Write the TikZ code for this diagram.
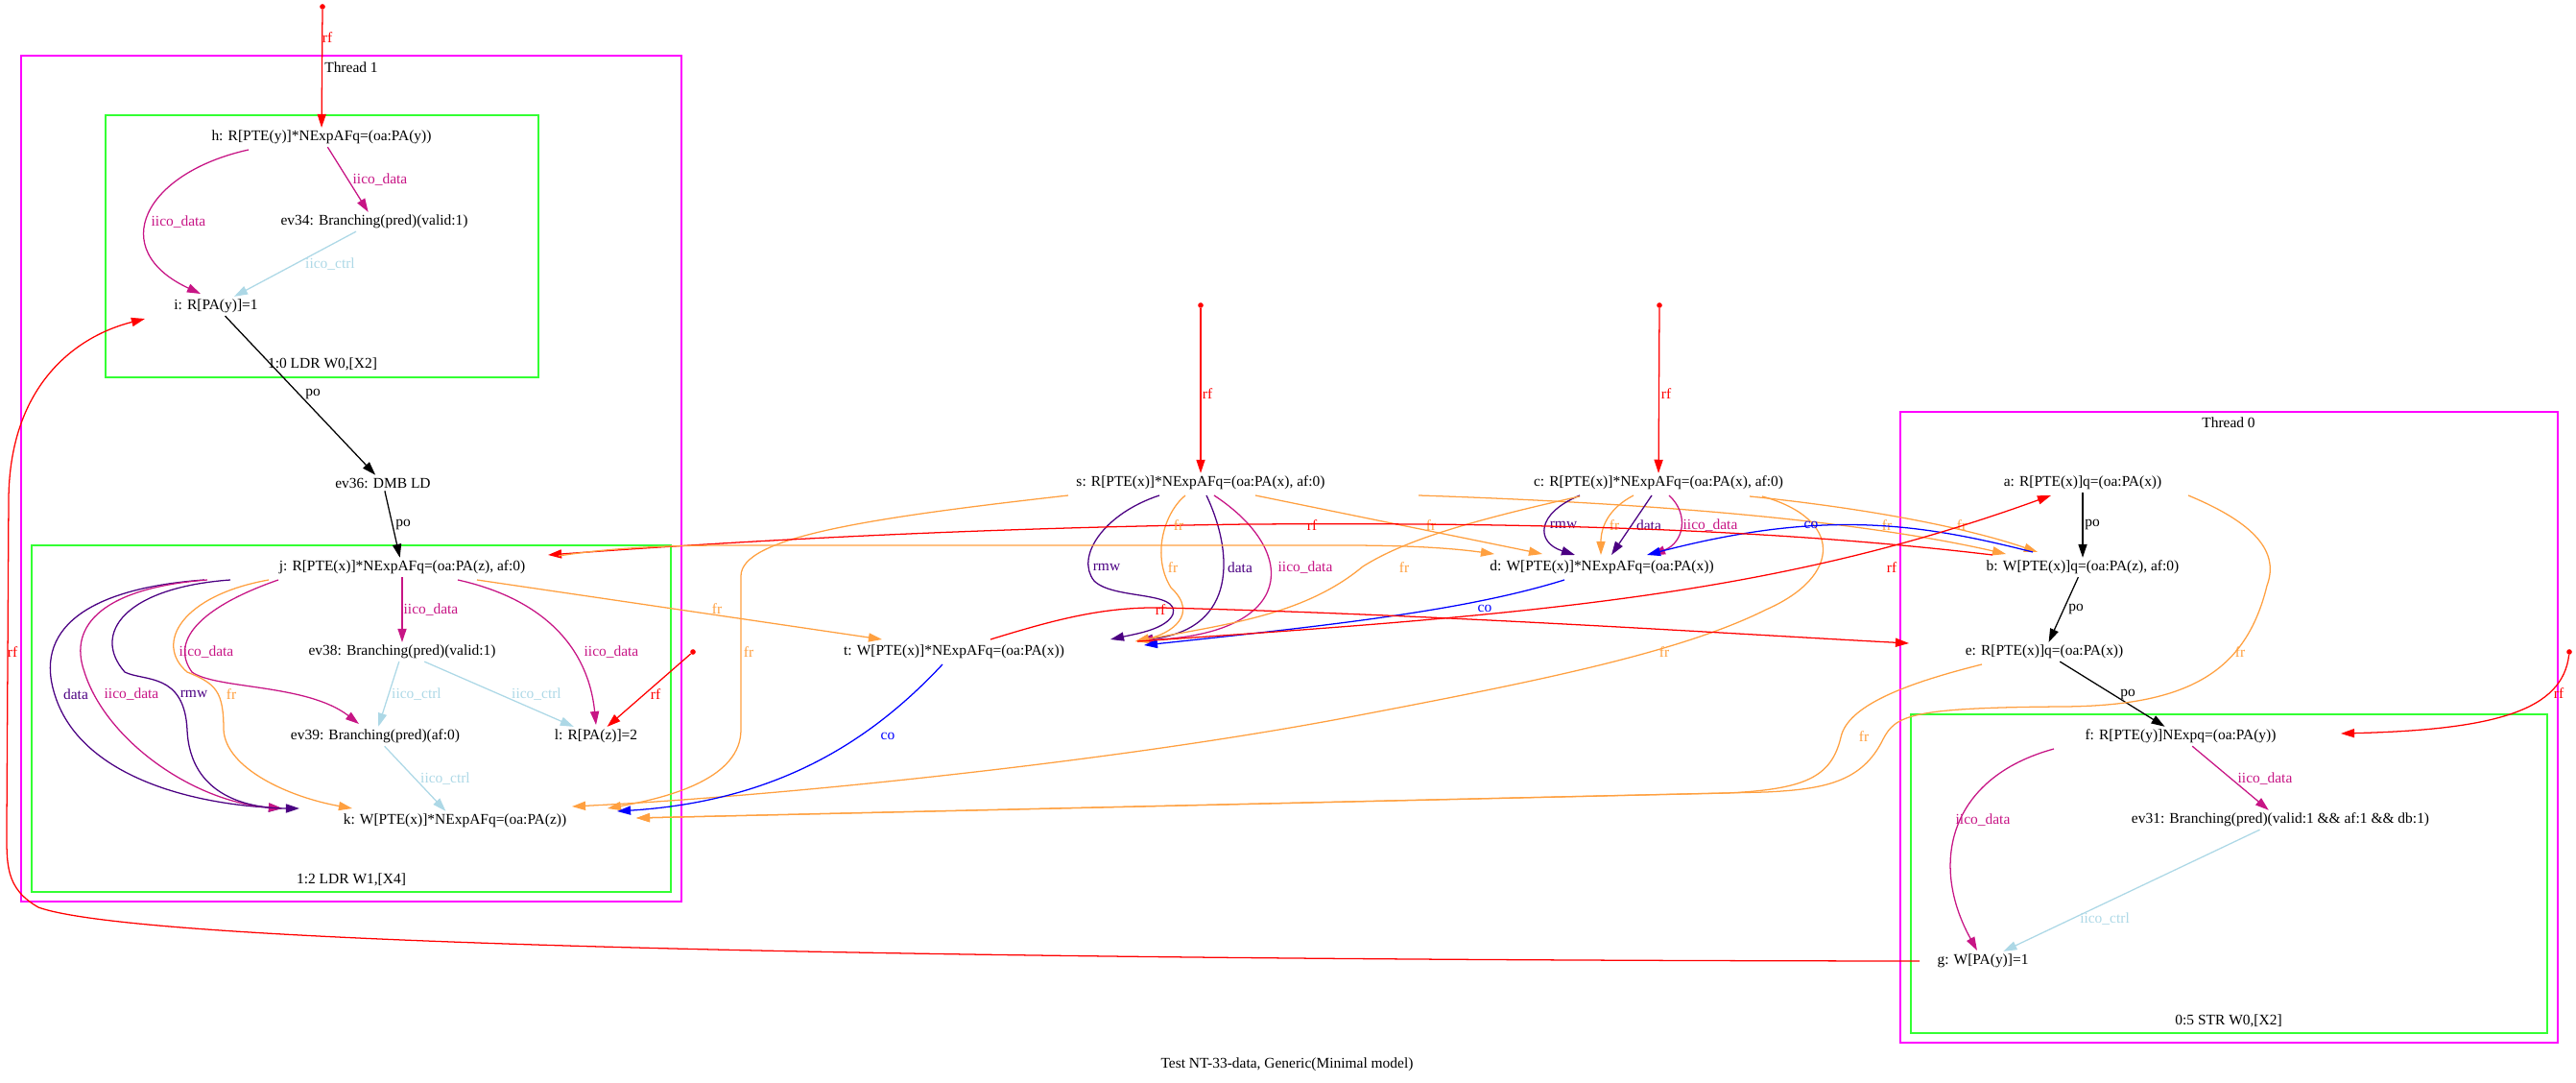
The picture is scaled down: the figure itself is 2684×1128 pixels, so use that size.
\documentclass[tikz,border=0pt]{standalone}
\usepackage{fontspec}
\setmainfont{Liberation Serif}
\usetikzlibrary{arrows.meta,calc}

\definecolor{thrcol}{RGB}{255,0,255}
\definecolor{inscol}{RGB}{51,255,51}
\definecolor{frcol}{RGB}{255,160,64}
\definecolor{idatacol}{RGB}{199,21,133}
\definecolor{ictrlcol}{RGB}{173,216,230}
\definecolor{indigocol}{RGB}{75,0,130}

\tikzset{
  evt/.style={inner sep=2pt},
  initdot/.style={circle, fill=red, inner sep=0pt, minimum size=4pt},
  thread/.style={draw=thrcol, line width=1.2pt},
  instr/.style={draw=inscol, line width=1.2pt},
  reledge/.style={line width=0.9pt, -{Triangle[length=10pt,width=6.5pt]}},
  rfe/.style={reledge, red},
  poe/.style={reledge, black},
  fre/.style={reledge, frcol},
  coe/.style={reledge, blue},
  idata/.style={reledge, idatacol},
  ictrl/.style={reledge, ictrlcol},
  rmwe/.style={reledge, indigocol},
  datae/.style={reledge, indigocol},
}

\begin{document}
\begin{tikzpicture}[x=0.025cm, y=-0.025cm, font=\fontsize{11}{13}\selectfont]
\useasboundingbox (0,0) rectangle (2684,1128);

% Thread 1
\draw[thread] (22,58) rectangle (710,939);
\node (thr1) at (366,70) {Thread 1};
\draw[instr] (110,120) rectangle (561,393);
\node (ins10) at (336,379) {1:0 LDR W0,[X2]};
\draw[instr] (33,568) rectangle (699,929);
\node (ins12) at (366,916) {1:2 LDR W1,[X4]};

% Thread 0
\draw[thread] (1980,429) rectangle (2665,1086);
\node (thr0) at (2322,440) {Thread 0};
\draw[instr] (1991,744) rectangle (2654,1076);
\node (ins05) at (2322,1063) {0:5 STR W0,[X2]};

% events
\node[evt] (h) at (335,143) {h: R[PTE(y)]*NExpAFq=(oa:PA(y))};
\node[evt] (ev34) at (390,231) {ev34: Branching(pred)(valid:1)};
\node[evt] (i) at (225,319) {i: R[PA(y)]=1};
\node[evt] (ev36) at (399,503) {ev36: DMB LD};
\node[evt] (j) at (419,591) {j: R[PTE(x)]*NExpAFq=(oa:PA(z), af:0)};
\node[evt] (ev38) at (419,679) {ev38: Branching(pred)(valid:1)};
\node[evt] (ev39) at (391,767) {ev39: Branching(pred)(af:0)};
\node[evt] (l) at (621,767) {l: R[PA(z)]=2};
\node[evt] (k) at (474,855) {k: W[PTE(x)]*NExpAFq=(oa:PA(z))};

\node[evt] (s) at (1251,503) {s: R[PTE(x)]*NExpAFq=(oa:PA(x), af:0)};
\node[evt] (c) at (1728,503) {c: R[PTE(x)]*NExpAFq=(oa:PA(x), af:0)};
\node[evt] (d) at (1669,591) {d: W[PTE(x)]*NExpAFq=(oa:PA(x))};
\node[evt] (t) at (994,679) {t: W[PTE(x)]*NExpAFq=(oa:PA(x))};

\node[evt] (a) at (2170,503) {a: R[PTE(x)]q=(oa:PA(x))};
\node[evt] (b) at (2170,591) {b: W[PTE(x)]q=(oa:PA(z), af:0)};
\node[evt] (e) at (2130,679) {e: R[PTE(x)]q=(oa:PA(x))};
\node[evt] (f) at (2272,767) {f: R[PTE(y)]NExpq=(oa:PA(y))};
\node[evt] (ev31) at (2376,854) {ev31: Branching(pred)(valid:1 \&\& af:1 \&\& db:1)};
\node[evt] (g) at (2066,1001) {g: W[PA(y)]=1};

% initial writes
\node[initdot] (inh) at (336,7) {};
\node[initdot] (inl) at (722,679) {};
\node[initdot] (ins) at (1251,318) {};
\node[initdot] (inc) at (1729,318) {};
\node[initdot] (inf) at (2677,679) {};

% thread 1 edges
\draw[rfe] (inh) -- (h) node at (341,39) {rf};
\draw[idata] (h) -- (ev34) node at (396,187) {iico\_data};
\draw[idata] ($(h)+(-76,13)$) .. controls (150,180) and (110,260) .. ($(i)+(-16,-13)$) node at (186,231) {iico\_data};
\draw[ictrl] (ev34) -- (i) node at (344,275) {iico\_ctrl};
\draw[poe] (i) -- (ev36) node at (326,411) {po};
\draw[poe] (ev36) -- (j) node at (420,547) {po};
\draw[idata] (j) -- (ev38) node at (449,635) {iico\_data};
\draw[idata] ($(j)+(58,13)$) .. controls (567,624) and (613,675) .. ($(l)+(0,-12)$) node at (637,679) {iico\_data};
\draw[idata] ($(j)+(-129,13)$) .. controls (215,630) and (175,665) .. (200,700) .. controls (225,718) and (320,712) .. ($(ev39)+(-17,-13)$) node at (215,679) {iico\_data};
\draw[ictrl] (ev38) -- (ev39) node at (434,723) {iico\_ctrl};
\draw[ictrl] (ev38) -- (l) node at (559,723) {iico\_ctrl};
\draw[ictrl] (ev39) -- (k) node at (464,811) {iico\_ctrl};
\draw[datae] ($(j)+(-206,13)$) .. controls (100,612) and (36,650) .. (56,720) .. controls (78,800) and (180,835) .. ($(k)+(-180,-13)$) node at (79,723) {data};
\draw[idata] ($(j)+(-203,13)$) .. controls (110,612) and (70,650) .. (88,700) .. controls (110,770) and (200,835) .. ($(k)+(-180,-13)$) node at (137,723) {iico\_data};
\draw[rmwe] ($(j)+(-179,13)$) .. controls (130,612) and (95,660) .. (130,700) .. controls (150,710) and (192,700) .. (195,760) .. controls (198,830) and (260,842) .. ($(k)+(-162,-13)$) node at (202,723) {rmw};
\draw[fre] ($(j)+(-139,13)$) .. controls (190,620) and (160,670) .. (195,700) .. controls (225,712) and (233,720) .. (233,760) .. controls (235,800) and (300,830) .. ($(k)+(-107,-13)$) node at (241,723) {fr};
\draw[rfe] (inl) -- (l) node at (683,723) {rf};
\draw[rfe] ($(g)+(-66,0)$) .. controls (1000,1000) and (150,985) .. (40,945) .. controls (5,925) and (7,900) .. (7,860) -- (9,520) .. controls (10,400) and (80,350) .. ($(i)+(-74,13)$) node at (13,679) {rf};

% s and c
\draw[rfe] (ins) -- (s) node at (1258,410) {rf};
\draw[rfe] (inc) -- (c) node at (1736,410) {rf};
\draw[rmwe] ($(s)+(-43,13)$) .. controls (1150,535) and (1120,580) .. (1140,605) .. controls (1160,625) and (1230,615) .. (1222,640) .. controls (1215,655) and (1185,660) .. ($(t)+(163,-13)$) node at (1153,591) {rmw};
\draw[fre] ($(s)+(-16,13)$) .. controls (1212,535) and (1200,580) .. (1220,612) .. controls (1250,640) and (1220,660) .. ($(t)+(189,-11)$) node at (1222,591) {fr};
\draw[datae] ($(s)+(6,13)$) .. controls (1285,575) and (1290,655) .. ($(t)+(193,-12)$) node at (1292,591) {data};
\draw[idata] ($(s)+(14,13)$) .. controls (1355,575) and (1350,660) .. ($(t)+(193,-12)$) node at (1360,591) {iico\_data};
\draw[fre] ($(s)+(57,13)$) -- ($(d)+(-62,-14)$) node at (1491,547) {fr};
\draw[fre] ($(s)+(-138,13)$) .. controls (900,540) and (772,560) .. (772,600) -- (772,760) .. controls (772,810) and (700,830) .. ($(k)+(159,-13)$) node at (780,679) {fr};
\draw[fre] ($(s)+(227,13)$) .. controls (1750,525) and (1950,545) .. ($(b)+(-80,-14)$) node at (1966,547) {fr};
\draw[rmwe] ($(c)+(-82,13)$) .. controls (1600,535) and (1600,565) .. ($(d)+(-28,-13)$) node at (1629,547) {rmw};
\draw[fre] ($(c)+(-26,13)$) .. controls (1675,530) and (1668,550) .. ($(d)+(-1,-13)$) node at (1682,547) {fr};
\draw[datae] ($(c)+(-7,13)$) -- ($(d)+(10,-13)$) node at (1718,547) {data};
\draw[idata] ($(c)+(11,13)$) .. controls (1760,535) and (1755,565) .. ($(d)+(52,-13)$) node at (1782,547) {iico\_data};
\draw[fre] ($(c)+(-82,14)$) .. controls (1520,545) and (1460,565) .. (1420,590) .. controls (1360,640) and (1280,650) .. ($(t)+(189,-11)$) node at (1463,591) {fr};
\draw[fre] ($(c)+(108,14)$) .. controls (1920,540) and (1920,600) .. (1840,635) .. controls (1750,680) and (1600,710) .. (1400,748) .. controls (1150,795) and (800,830) .. ($(k)+(122,-15)$) node at (1734,679) {fr};
\draw[fre] ($(c)+(95,14)$) .. controls (1950,530) and (2050,550) .. ($(b)+(-47,-16)$) node at (2044,547) {fr};

% co and rf between threads
\draw[coe] ($(b)+(-52,-16)$) .. controls (2000,545) and (1900,530) .. ($(d)+(47,-13)$) node at (1887,547) {co};
\draw[coe] ($(d)+(-39,13)$) .. controls (1530,635) and (1400,650) .. ($(t)+(198,-7)$) node at (1547,634) {co};
\draw[coe] ($(t)+(-12,13)$) .. controls (900,780) and (800,835) .. ($(k)+(169,-10)$) node at (925,767) {co};
\draw[rfe] ($(t)+(38,-13)$) .. controls (1100,645) and (1150,632) .. (1210,633) .. controls (1500,640) and (1800,660) .. ($(e)+(-141,-9)$) node at (1209,635) {rf};
\draw[rfe] ($(t)+(191,-11)$) .. controls (1600,640) and (1850,620) .. ($(a)+(-33,13)$) node at (1971,591) {rf};
\draw[rfe] ($(b)+(-94,-13)$) .. controls (1800,545) and (1500,545) .. (1300,546) .. controls (1000,550) and (750,565) .. ($(j)+(152,-13)$) node at (1367,547) {rf};
\draw[fre] ($(j)+(163,-12)$) .. controls (640,570) and (700,568) .. (760,568) -- (1400,568) .. controls (1480,568) and (1520,572) .. ($(d)+(-112,-14)$) node at (1228,547) {fr};
\draw[fre] ($(j)+(78,13)$) -- ($(t)+(-75,-13)$) node at (747,634) {fr};

% thread 0 edges
\draw[poe] (a) -- (b) node at (2180,547) {po};
\draw[poe] (b) -- (e) node at (2163,635) {po};
\draw[poe] (e) -- (f) node at (2217,723) {po};
\draw[fre] ($(a)+(110,13)$) .. controls (2350,545) and (2375,575) .. (2362,610) .. controls (2340,700) and (2280,735) .. (2150,736) .. controls (1990,737) and (1975,745) .. (1962,770) .. controls (1940,815) and (1900,822) .. (1840,825) -- ($(k)+(189,-3)$) node at (2334,679) {fr};
\draw[fre] ($(e)+(-65,13)$) .. controls (1985,712) and (1925,735) .. (1918,768) .. controls (1908,810) and (1880,822) .. (1800,826) -- ($(k)+(189,-3)$) node at (1942,767) {fr};
\draw[rfe] (inf) .. controls (2670,740) and (2600,760) .. ($(f)+(167,-3)$) node at (2666,722) {rf};
\draw[idata] (f) -- (ev31) node at (2360,811) {iico\_data};
\draw[idata] ($(f)+(-132,13)$) .. controls (2030,810) and (2010,900) .. ($(g)+(-6,-11)$) node at (2066,854) {iico\_data};
\draw[ictrl] (ev31) -- (g) node at (2193,957) {iico\_ctrl};

\node (cap) at (1341,1109) {Test NT-33-data, Generic(Minimal model)};
\end{tikzpicture}
\end{document}
